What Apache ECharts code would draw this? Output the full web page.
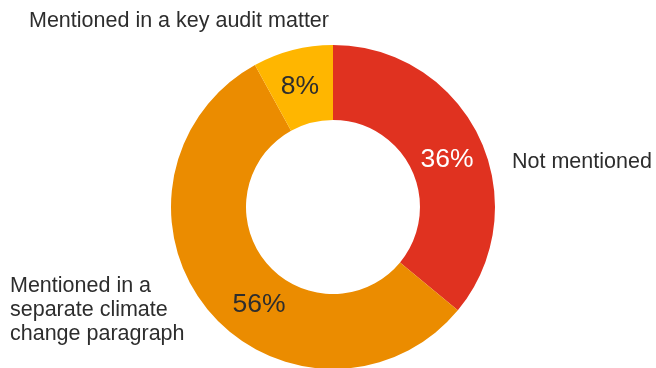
<!DOCTYPE html>
<html>
<head>
<meta charset="utf-8">
<script src="https://cdn.jsdelivr.net/npm/echarts@6/dist/echarts.min.js"></script>
<style>html,body{margin:0;padding:0;background:#fff}#c{width:656px;height:368px}</style>
</head>
<body>
<div id="c"></div>
<script>
const categories = ['Not mentioned', 'Mentioned in a\nseparate climate\nchange paragraph', 'Mentioned in a key audit matter'];
const values = [36, 56, 8];
const colors = ['#e03220', '#eb8c00', '#ffb600'];
const pctColors = ['#ffffff', '#2d2d2d', '#2d2d2d'];

const pctPos = [[447, 160], [259, 305], [300, 87]];
const namePos = [[512, 162, 'left'], [10, 310, 'left'], [29, 21, 'left']];

const chart = echarts.init(document.getElementById('c'));
const font = '"Liberation Sans", Arial, Helvetica, sans-serif';
const base = {
  type: 'pie', center: [333, 207], radius: [87, 162], startAngle: 90, clockwise: true,
  avoidLabelOverlap: false, labelLine: { show: false }, emphasis: { disabled: true }
};
chart.setOption({
  animation: false,
  series: [
    Object.assign({}, base, {
      data: categories.map((c, i) => ({
        name: c, value: values[i],
        itemStyle: { color: colors[i], borderWidth: 0 },
        label: { color: pctColors[i] }
      })),
      label: { show: true, position: 'inside', formatter: p => p.value + '%', fontSize: 26.5, fontFamily: font },
      labelLayout: p => ({ x: pctPos[p.dataIndex][0], y: pctPos[p.dataIndex][1], align: 'center', verticalAlign: 'middle' })
    }),
    Object.assign({}, base, {
      silent: true,
      data: categories.map((c, i) => ({ name: c, value: values[i], itemStyle: { color: 'rgba(0,0,0,0)' } })),
      label: { show: true, position: 'inside', formatter: '{b}', fontSize: 21.5, lineHeight: 24, color: '#2d2d2d', fontFamily: font },
      labelLayout: p => ({ x: namePos[p.dataIndex][0], y: namePos[p.dataIndex][1], align: namePos[p.dataIndex][2], verticalAlign: 'middle' })
    })
  ]
});
</script>
</body>
</html>
